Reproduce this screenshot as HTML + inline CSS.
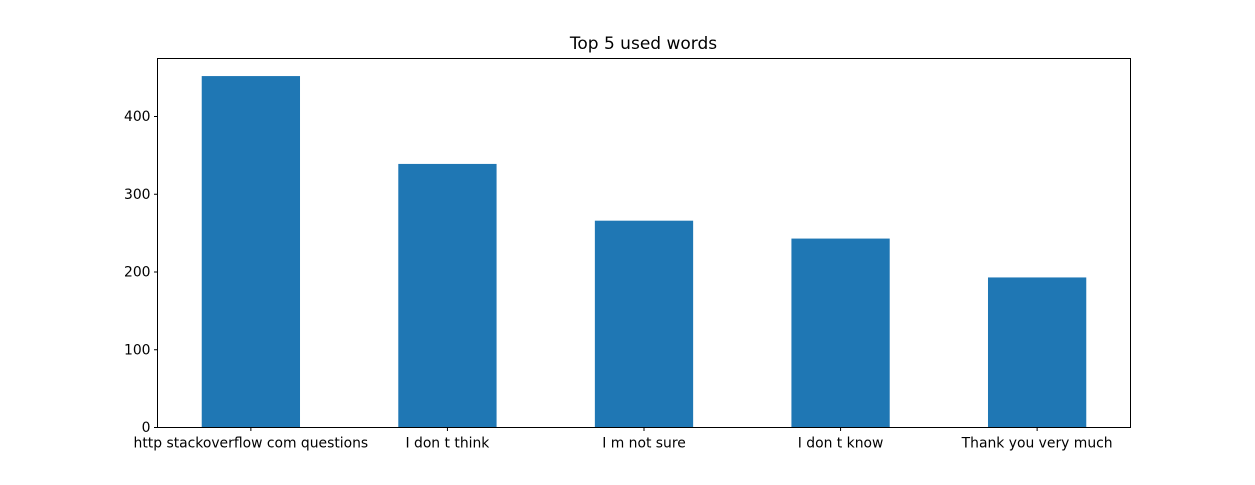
<!DOCTYPE html>
<html><head><meta charset="utf-8"><style>
body{margin:0;background:#fff;}
svg text{font-family:"DejaVu Sans","Liberation Sans",sans-serif;font-size:13.9px;fill:#000;}
</style></head><body>
<svg width="1255" height="480">
<text x="643.5" y="49" text-anchor="middle" style="font-size:17px">Top 5 used words</text>
<g id="bars"></g>
<g id="yaxis"></g>
<g id="xaxis"></g>
<rect x="157.5" y="58.5" width="973" height="369" fill="none" stroke="#000" stroke-width="1"/>
</svg>
<script>
const categories=["http stackoverflow com questions","I don t think","I m not sure","I don t know","Thank you very much"];
const values=[452,339,266,243,193];
const yTicks=[0,100,200,300,400];
const NS="http://www.w3.org/2000/svg";
const L=157.5,R=1130.5,T=58.5,B=427.5;
const ymax=Math.max(...values)*1.05;
const n=categories.length;
const xmin=-0.25-0.05*(n-0.5), xmax=n-1+0.25+0.05*(n-0.5);
const xs=v=>L+(v-xmin)/(xmax-xmin)*(R-L);
const ys=v=>B-v/ymax*(B-T);
function mk(t,a){const e=document.createElementNS(NS,t);for(const k in a)e.setAttribute(k,a[k]);return e;}
const gb=document.getElementById('bars'),gx=document.getElementById('xaxis'),gy=document.getElementById('yaxis');
values.forEach((v,i)=>{
 const r=mk('rect',{x:xs(i-0.25),y:ys(v),width:xs(i+0.25)-xs(i-0.25),height:B-ys(v),fill:'#1f77b4'});
 
 
 gb.appendChild(r);
 const tk=mk('line',{x1:xs(i),x2:xs(i),y1:B,y2:B+3.5,stroke:'#000'});
 
 
 gx.appendChild(tk);
 const t=mk('text',{x:xs(i),y:B+20,'text-anchor':'middle'});t.textContent=categories[i];
 
 
 gx.appendChild(t);
});
yTicks.forEach(v=>{
 const tk=mk('line',{x1:L-3.5,x2:L,y1:ys(v),y2:ys(v),stroke:'#000'});
 
 
 gy.appendChild(tk);
 const t=mk('text',{x:L-7,y:ys(v)+4.5,'text-anchor':'end'});t.textContent=v;
 
 
 gy.appendChild(t);
});
</script>
</body></html>
